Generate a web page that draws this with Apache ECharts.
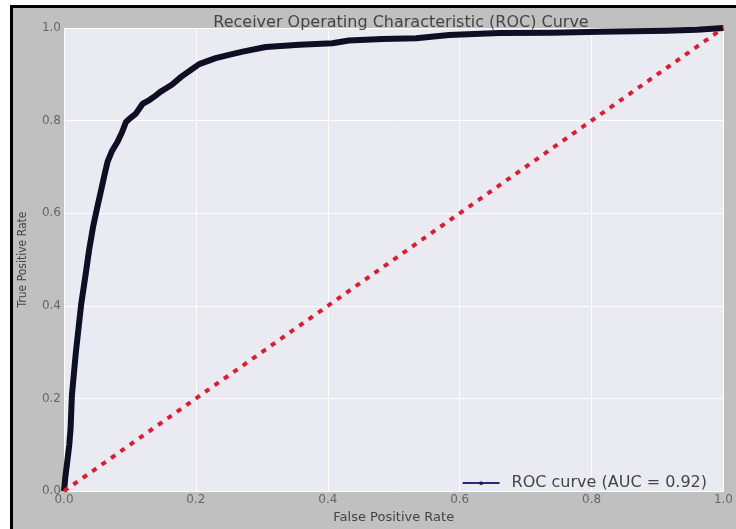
<!DOCTYPE html>
<html>
<head>
<meta charset="utf-8">
<script src="https://cdn.jsdelivr.net/npm/echarts@6/dist/echarts.min.js"></script>
<style>
html,body{margin:0;padding:0;background:#ffffff;}
#chart{width:736px;height:529px;}
</style>
</head>
<body>
<div id="chart"></div>
<script>
var titleText = 'Receiver Operating Characteristic (ROC) Curve';
var xName = 'False Positive Rate';
var yName = 'True Positive Rate';
var rocName = 'ROC curve (AUC = 0.92)';
var tickLabels = ['0.0', '0.2', '0.4', '0.6', '0.8', '1.0'];
var fpr = [0, 0.002, 0.005, 0.008, 0.010, 0.012, 0.018, 0.026, 0.033, 0.038, 0.044, 0.050, 0.056, 0.061, 0.066, 0.073, 0.081, 0.088, 0.094, 0.101, 0.109, 0.119, 0.130, 0.139, 0.146, 0.155, 0.164, 0.178, 0.195, 0.205, 0.230, 0.250, 0.271, 0.306, 0.357, 0.407, 0.432, 0.483, 0.534, 0.584, 0.660, 0.740, 0.812, 0.913, 0.960, 1.0];
var tpr = [0, 0.030, 0.064, 0.100, 0.136, 0.207, 0.300, 0.403, 0.470, 0.520, 0.570, 0.610, 0.648, 0.680, 0.711, 0.735, 0.754, 0.775, 0.797, 0.806, 0.815, 0.836, 0.845, 0.854, 0.862, 0.870, 0.878, 0.895, 0.912, 0.922, 0.935, 0.942, 0.949, 0.959, 0.964, 0.967, 0.973, 0.976, 0.978, 0.985, 0.989, 0.990, 0.992, 0.994, 0.996, 1.0];
var diagX = [0, 1];
var diagY = [0, 1];

var rocData = fpr.map(function (v, i) { return [v, tpr[i]]; });
var diagData = diagX.map(function (v, i) { return [v, diagY[i]]; });

var chart = echarts.init(document.getElementById('chart'), null, {renderer: 'canvas'});
var font = 'DejaVu Sans';
var axisCommon = {
  type: 'value', min: 0, max: 1, interval: 0.2,
  axisLine: {show: false}, axisTick: {show: false},
  splitLine: {show: true, lineStyle: {color: '#ffffff', width: 1}},
  nameLocation: 'middle'
};
chart.setOption({
  animation: false,
  backgroundColor: 'transparent',
  graphic: [{
    type: 'rect', z: -10, silent: true,
    shape: {x: 11.5, y: 6.5, width: 740, height: 540},
    style: {fill: '#c0c0c0', stroke: '#000000', lineWidth: 3}
  }],
  title: {
    text: titleText, left: 396, top: 10, textAlign: 'center',
    textStyle: {fontFamily: font, fontSize: 16, fontWeight: 'normal', color: '#444'}
  },
  grid: {left: 64, top: 28, width: 660, height: 469, show: true, backgroundColor: '#eaeaf2', borderWidth: 0},
  xAxis: Object.assign({}, axisCommon, {
    name: xName, nameGap: 17,
    nameTextStyle: {color: '#444', fontFamily: font, fontSize: 13},
    axisLabel: {color: '#666', fontFamily: font, fontSize: 12, margin: 3,
      formatter: function (v) { return tickLabels[Math.round(v / 0.2)]; }}
  }),
  yAxis: Object.assign({}, axisCommon, {
    name: yName, nameGap: 35,
    nameTextStyle: {color: '#444', fontFamily: 'Liberation Sans Narrow, DejaVu Sans Condensed, ' + font, fontSize: 12},
    axisLabel: {color: '#666', fontFamily: font, fontSize: 12, margin: 3,
      formatter: function (v) { return tickLabels[Math.round(v / 0.2)]; }}
  }),
  legend: {
    data: [rocName], right: 24, bottom: 33, itemWidth: 37, itemHeight: 6,
    textStyle: {fontFamily: font, fontSize: 16, color: '#444', padding: [0, 0, 0, 7]},
    itemGap: 10
  },
  series: [{
    name: 'roc-band', type: 'line', data: rocData, showSymbol: false, symbol: 'none',
    lineStyle: {color: '#0e0e24', width: 6, join: 'round'}, z: 3
  }, {
    name: rocName, type: 'line', data: [], symbol: 'path://M0,-10 L2.9,-4 L9.5,-3 L4.7,1.5 L5.9,8 L0,5 L-5.9,8 L-4.7,1.5 L-9.5,-3 L-2.9,-4 Z',
    symbolSize: 5, itemStyle: {color: '#1a1a4a'}, lineStyle: {color: '#2a2a7a', width: 1}
  }, {
    name: 'diag', type: 'line', data: diagData, showSymbol: false, symbol: 'none',
    lineStyle: {color: '#e31a2b', width: 4, type: [5, 6.5], cap: 'butt'}, z: 4
  }]
});
</script>
</body>
</html>
